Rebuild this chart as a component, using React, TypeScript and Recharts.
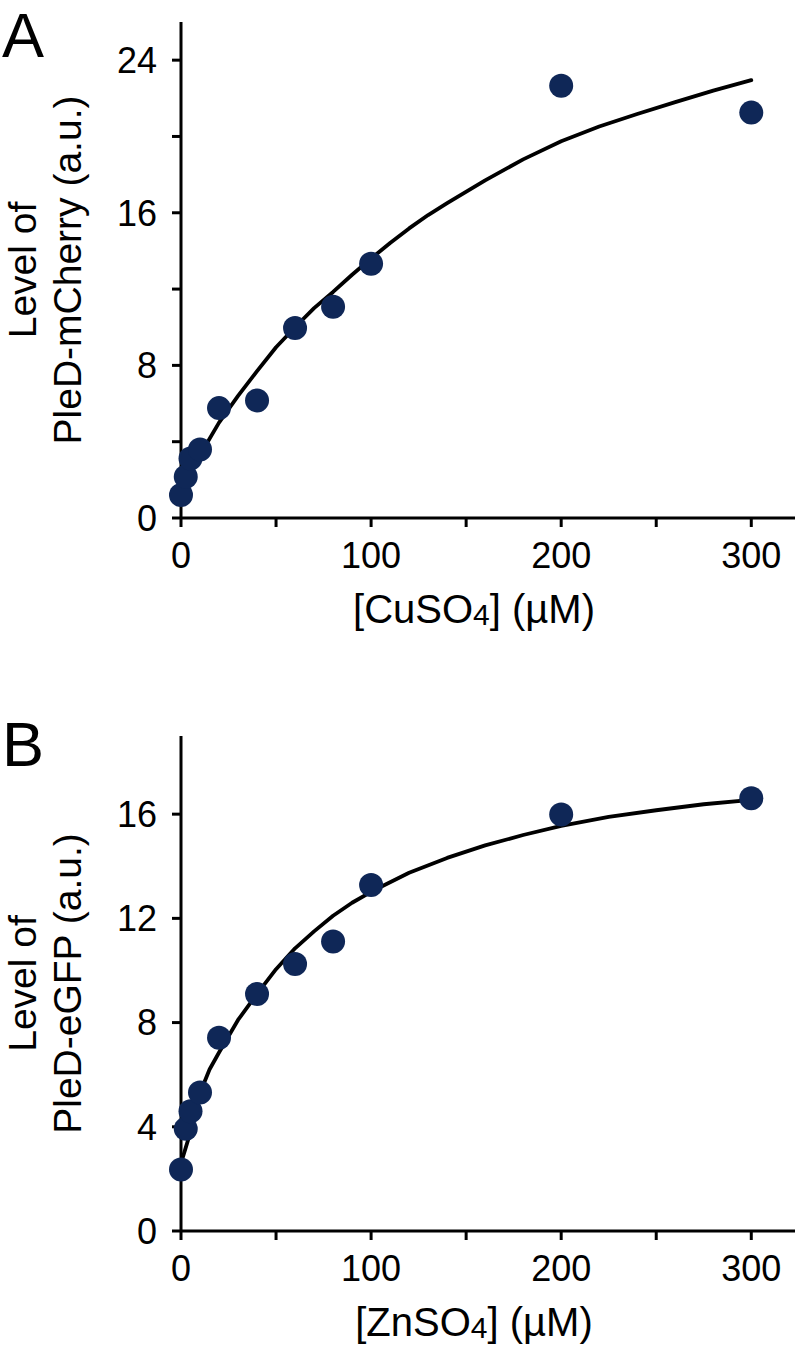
import React from 'react';
import { ScatterChart, Scatter, XAxis, YAxis, Label } from 'recharts';

// ---- shared axis ticks ----
const xTicks = [0, 50, 100, 150, 200, 250, 300];
const xLabelled = [0, 100, 200, 300];

// ---- Panel A: CuSO4 / PleD-mCherry ----
const cuConc = [0, 2.5, 5, 10, 20, 40, 60, 80, 100, 200, 300];
const cherryLevel = [1.2, 2.16, 3.12, 3.59, 5.76, 6.16, 9.96, 11.07, 13.33, 22.66, 21.25];
const cuFitX = [0, 5, 10, 20, 30, 40, 50, 60, 70, 80, 90, 100, 110, 120, 130, 140, 160, 180, 200, 220, 240, 260, 280, 300];
const cuFitY = [1.5, 2.5, 3.3, 5.0, 6.4, 7.7, 8.95, 10.0, 11.0, 11.85, 12.75, 13.6, 14.42, 15.18, 15.88, 16.5, 17.7, 18.8, 19.75, 20.52, 21.18, 21.8, 22.4, 22.95];
const cherryTicks = [0, 4, 8, 12, 16, 20, 24];
const cherryLabelled = [0, 8, 16, 24];

// ---- Panel B: ZnSO4 / PleD-eGFP ----
const znConc = [0, 2.5, 5, 10, 20, 40, 60, 80, 100, 200, 300];
const gfpLevel = [2.36, 3.92, 4.6, 5.32, 7.42, 9.1, 10.25, 11.11, 13.28, 15.99, 16.61];
const znFitX = [0, 2.5, 5, 10, 15, 20, 30, 40, 50, 60, 70, 80, 90, 100, 120, 140, 160, 180, 200, 225, 250, 275, 300];
const znFitY = [2.6, 3.2, 3.8, 5.3, 6.2, 6.85, 8.1, 9.1, 10.05, 10.85, 11.5, 12.1, 12.6, 13.02, 13.75, 14.32, 14.8, 15.2, 15.55, 15.9, 16.15, 16.38, 16.55];
const gfpTicks = [0, 4, 8, 12, 16];
const gfpLabelled = [0, 4, 8, 12, 16];

const FONT = '"Liberation Sans", Arial, Helvetica, sans-serif';
const DOT = '#0f2757';

const zip = (xs: number[], ys: number[]) => xs.map((x, i) => ({ x, y: ys[i] }));

const Dot = (props: any) => {
  const { cx, cy } = props;
  if (cx == null || cy == null) return <g />;
  return <circle cx={cx} cy={cy} r={12} fill={DOT} />;
};
const NoDot = () => <g />;

type PanelProps = {
  letter: string;
  letterY: number;
  chem: string;
  yLine2: string;
  points: { x: number; y: number }[];
  fit: { x: number; y: number }[];
  yDomain: [number, number];
  yTicks: number[];
  yLabelled: number[];
  marginTop: number;
  marginBottom: number;
};

const Panel = (p: PanelProps) => {
  const tickStyle = { fill: '#000', fontSize: 36, fontFamily: FONT };
  return (
    <ScatterChart
      width={800}
      height={683}
      margin={{ top: p.marginTop, right: 5, bottom: p.marginBottom, left: 0 }}
    >
      <XAxis
        type="number"
        dataKey="x"
        domain={[0, 323]}
        ticks={xTicks}
        interval={0}
        tickFormatter={(v: number) => (xLabelled.includes(v) ? String(v) : '')}
        axisLine={{ stroke: '#000', strokeWidth: 3 }}
        tickLine={{ stroke: '#000', strokeWidth: 3 }}
        tickSize={9}
        tickMargin={15}
        tick={tickStyle}
        height={120}
      >
        <Label
          content={(lp: any) => {
            const vb = lp.viewBox || { x: 181, y: 518, width: 614 };
            const cx = vb.x + vb.width / 2 - 14;
            const by = vb.y + 105;
            return (
              <text x={cx} y={by} textAnchor="middle" fontFamily={FONT} fontSize={40} fill="#000">
                <tspan>{'[' + p.chem + 'SO'}</tspan>
                <tspan fontSize={30} dy={2}>4</tspan>
                <tspan dy={-2}>{'] (µM)'}</tspan>
              </text>
            );
          }}
        />
      </XAxis>
      <YAxis
        type="number"
        dataKey="y"
        domain={p.yDomain}
        ticks={p.yTicks}
        interval={0}
        allowDataOverflow
        tickFormatter={(v: number) => (p.yLabelled.includes(v) ? String(v) : '')}
        axisLine={{ stroke: '#000', strokeWidth: 3 }}
        tickLine={{ stroke: '#000', strokeWidth: 3 }}
        tickSize={9}
        tickMargin={15}
        tick={tickStyle}
        width={181}
      >
        <Label
          content={(lp: any) => {
            const vb = lp.viewBox || { x: 0, y: p.marginTop, width: 181, height: 496 };
            const cy = vb.y + vb.height / 2;
            return (
              <g>
                <text x={2} y={p.letterY} fontFamily={FONT} fontSize={63} fill="#000">
                  {p.letter}
                </text>
                <text
                  x={36}
                  y={cy}
                  transform={`rotate(-90, 36, ${cy})`}
                  textAnchor="middle"
                  fontFamily={FONT}
                  fontSize={39}
                  fill="#000"
                >
                  Level of
                </text>
                <text
                  x={81}
                  y={cy}
                  transform={`rotate(-90, 81, ${cy})`}
                  textAnchor="middle"
                  fontFamily={FONT}
                  fontSize={39}
                  fill="#000"
                >
                  {p.yLine2}
                </text>
              </g>
            );
          }}
        />
      </YAxis>
      <Scatter
        data={p.fit}
        line={{ stroke: '#000', strokeWidth: 3.8, strokeLinejoin: 'round', strokeLinecap: 'round' } as any}
        lineType="joint"
        shape={NoDot}
        isAnimationActive={false}
      />
      <Scatter data={p.points} shape={Dot} fill={DOT} isAnimationActive={false} />
    </ScatterChart>
  );
};

export default function App() {
  return (
    <div style={{ position: 'absolute', left: 0, top: 0, width: 800, height: 1366, background: '#fff' }}>
      <div style={{ position: 'absolute', left: 0, top: 0 }}>
        <Panel
          letter="A"
          letterY={57}
          chem="Cu"
          yLine2="PleD-mCherry (a.u.)"
          points={zip(cuConc, cherryLevel)}
          fit={zip(cuFitX, cuFitY)}
          yDomain={[0, 26]}
          yTicks={cherryTicks}
          yLabelled={cherryLabelled}
          marginTop={22}
          marginBottom={45}
        />
      </div>
      <div style={{ position: 'absolute', left: 0, top: 683 }}>
        <Panel
          letter="B"
          letterY={83}
          chem="Zn"
          yLine2="PleD-eGFP (a.u.)"
          points={zip(znConc, gfpLevel)}
          fit={zip(znFitX, znFitY)}
          yDomain={[0, 19]}
          yTicks={gfpTicks}
          yLabelled={gfpLabelled}
          marginTop={53}
          marginBottom={15}
        />
      </div>
    </div>
  );
}
